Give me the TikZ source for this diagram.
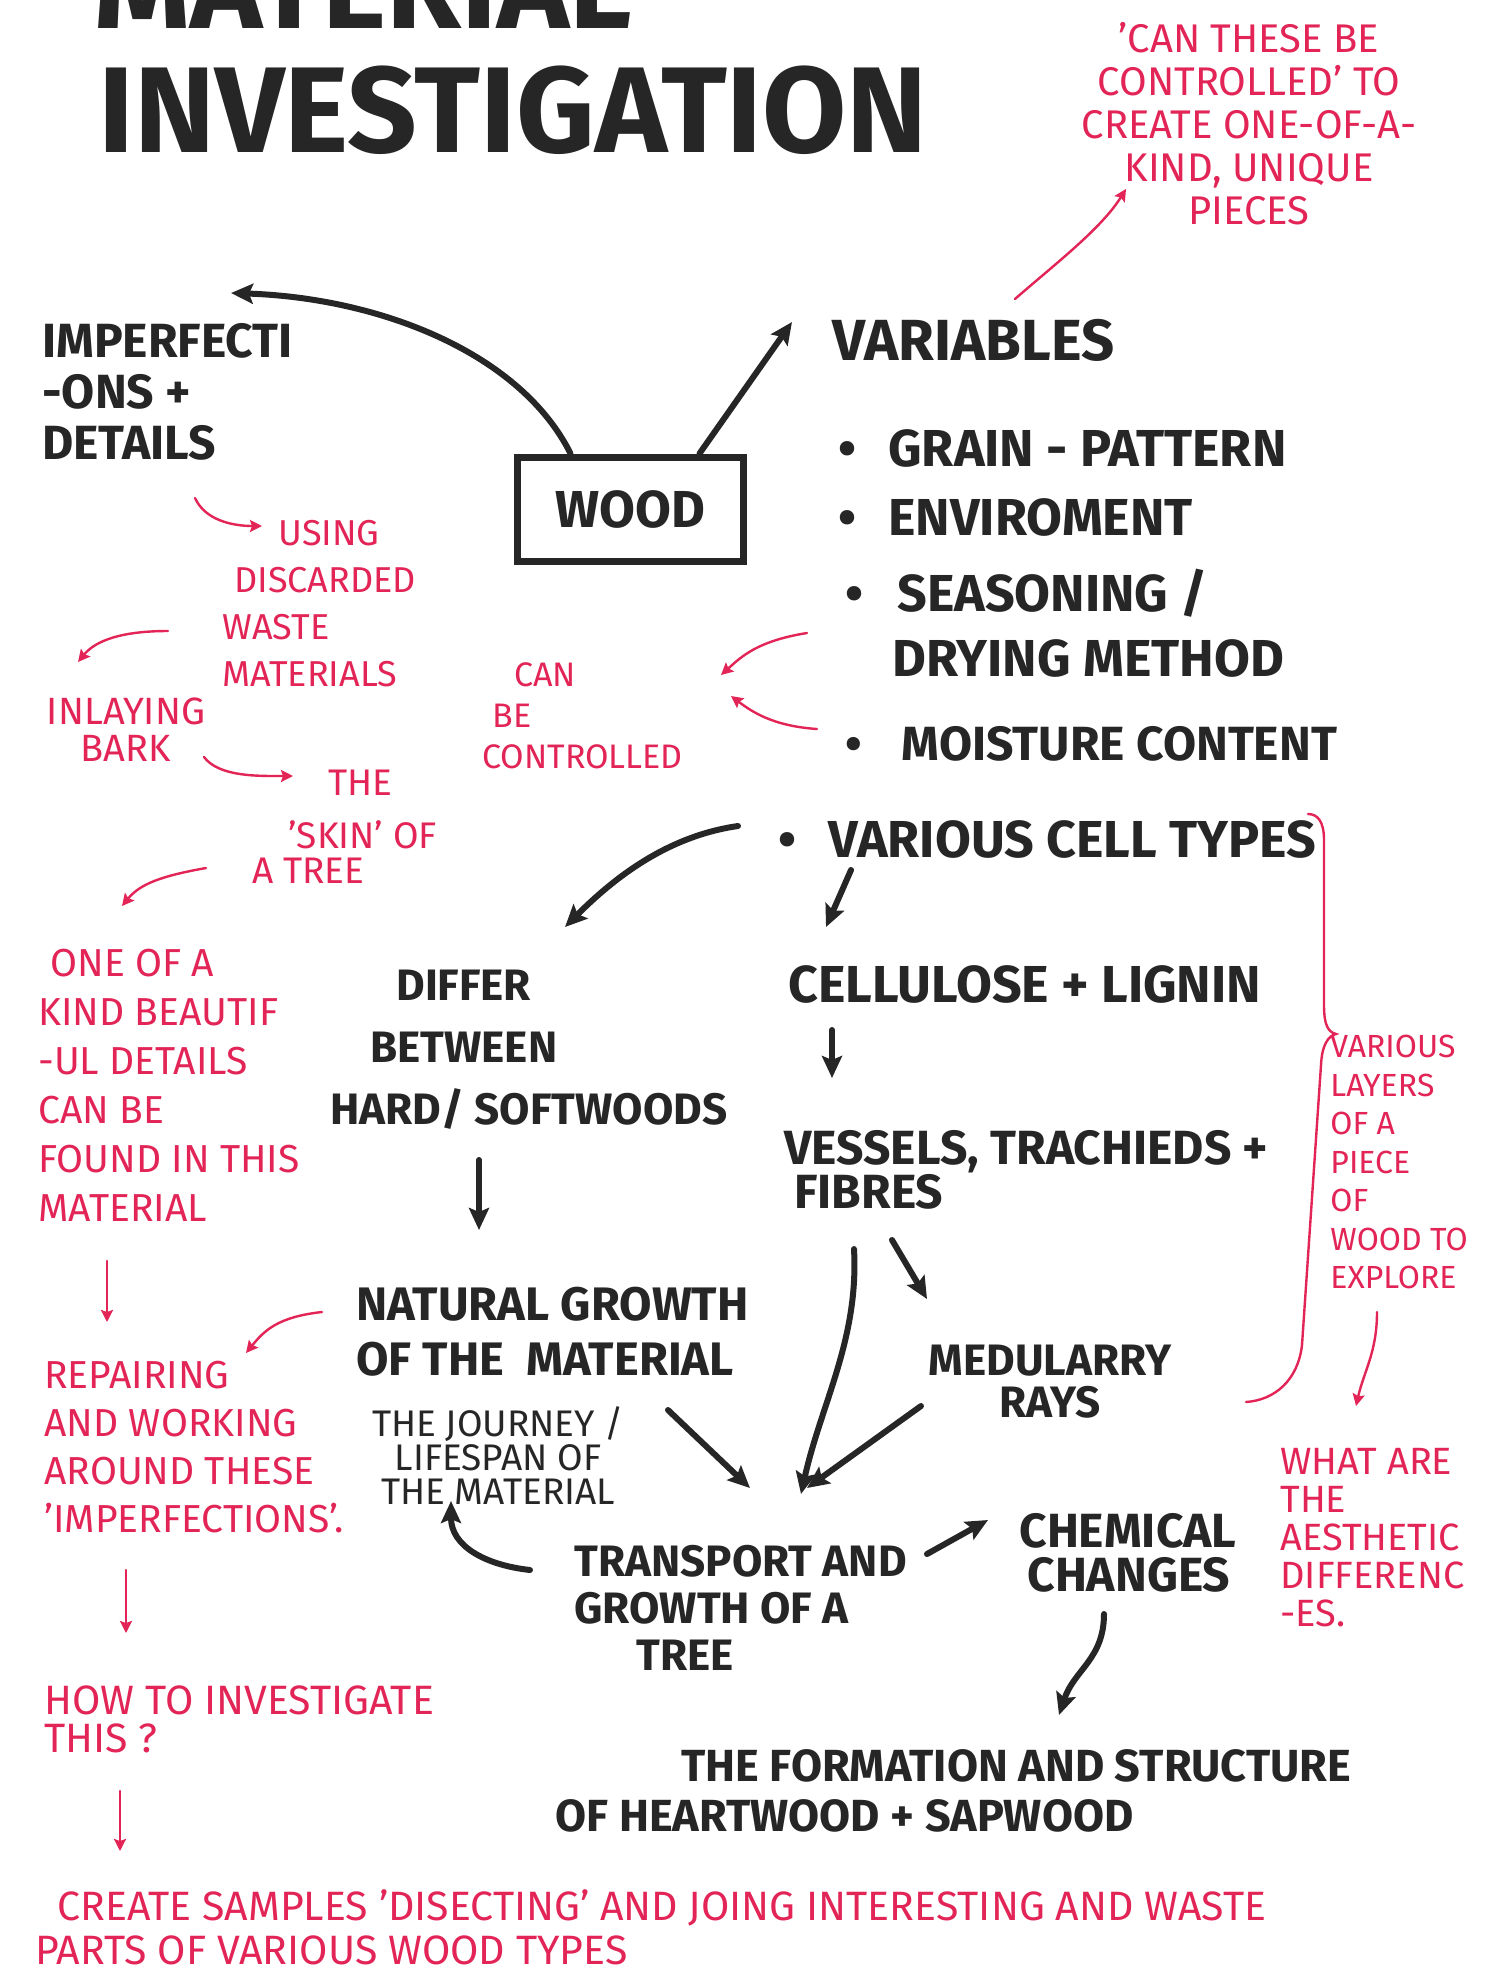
\documentclass[tikz,border=0pt]{standalone}
\usepackage{fontspec}
\setmainfont{Fira Sans}
\definecolor{inkBlack}{RGB}{38,38,38}
\definecolor{penRed}{RGB}{226,36,86}
\usetikzlibrary{arrows.meta,positioning}

\begin{document}
\begin{tikzpicture}[x=0.5pt, y=-0.5pt,
  ink/.style 2 args={inner sep=0pt, text=inkBlack, align=left,
              font=\bfseries\fontsize{#1}{#2}\selectfont},
  note/.style 2 args={inner sep=0pt, text=penRed, align=left,
               font=\fontsize{#1}{#2}\selectfont},
  headline/.style={inner sep=0pt, text=inkBlack, font=\bfseries\fontsize{61}{64}\selectfont},
  arr/.style={-{Stealth[length=11pt,width=10pt,inset=2pt]}, line width=3pt,
              draw=inkBlack, line cap=round},
  rarr/.style={-{Stealth[length=6pt,width=6pt,inset=1pt]}, line width=1.2pt,
               draw=penRed, line cap=round}
]
  \useasboundingbox (0,0) rectangle (1487,1977);
  \clip (0,0) rectangle (1487,1977);
  \fill[white] (0,0) rectangle (1487,1977);

  % title
  \node[headline, anchor=west] (ttl1) at (94,-14) {MATERIAL};
  \node[headline, anchor=west] (ttl2) at (98,110) {INVESTIGATION};

  % black nodes
  \node[ink={24}{25.5}, anchor=west] (imp) at (42,392) {IMPERFECTI\\-ONS +\\DETAILS};
  \node[draw=inkBlack, line width=3.5pt, minimum width=113pt, minimum height=52pt,
        text=inkBlack, font=\bfseries\fontsize{26}{30}\selectfont] (wood) at (630,509) {WOOD};
  \node[ink={29}{30}, anchor=west] (vars) at (832,340) {VARIABLES};
  \node[ink={26}{30}, anchor=west] (v1) at (838,448) {\textbullet\hspace{16pt}GRAIN - PATTERN};
  \node[ink={26}{30}, anchor=west] (v2) at (838,517) {\textbullet\hspace{16pt}ENVIROMENT};
  \node[ink={26}{30}, anchor=west] (v3) at (845,593) {\textbullet\hspace{17pt}SEASONING /};
  \node[ink={26}{30}, anchor=west] (v3b) at (892,658) {DRYING METHOD};
  \node[ink={24}{30}, anchor=west] (v4) at (845,744) {\textbullet\hspace{20pt}MOISTURE CONTENT};
  \node[ink={26}{30}, anchor=west] (v5) at (778,839) {\textbullet\hspace{16pt}VARIOUS CELL TYPES};
  \node[ink={26}{30}, anchor=west] (cell) at (788,984) {CELLULOSE + LIGNIN};
  \node[ink={24}{20}, anchor=west] (vess) at (784,1170) {VESSELS, TRACHIEDS +\\\hspace{5pt}FIBRES};
  \node[ink={22}{21}, align=center] (medul) at (1050,1382) {MEDULARRY\\RAYS};
  \node[ink={22}{31}, anchor=west] (differ) at (330,1050)
    {\hspace{33pt}DIFFER\\\hspace{20pt}BETWEEN\\HARD/ SOFTWOODS};
  \node[ink={23.5}{27.5}, anchor=west] (natural) at (356,1332) {NATURAL GROWTH\\OF THE \ MATERIAL};
  \node[inner sep=0pt, text=inkBlack, align=center, font=\fontsize{18.5}{17}\selectfont]
    (journey) at (498,1456) {THE JOURNEY /\\LIFESPAN OF\\THE MATERIAL};
  \node[ink={22}{23.5}, anchor=west] (trans) at (574,1608) {TRANSPORT AND\\GROWTH OF A\\\hspace{31pt}TREE};
  \node[ink={24}{22}, anchor=west] (chem) at (1019,1553) {CHEMICAL\\\hspace{4pt}CHANGES};
  \node[ink={22.5}{25}, anchor=west] (form) at (555,1791)
    {\hspace{63pt}THE FORMATION AND STRUCTURE\\OF HEARTWOOD + SAPWOOD};
  \node[inner sep=0pt, text=inkBlack, font=\fontsize{17}{20}\selectfont] (page) at (1462,1992) {33};

  % red notes
  \node[note={20}{21.5}, align=center] (q1) at (1249,124)
    {'CAN THESE BE\\CONTROLLED' TO\\CREATE ONE-OF-A-\\KIND, UNIQUE\\PIECES};
  \node[note={18}{23.5}, anchor=west] (using) at (222,604)
    {\hspace{28pt}USING\\\hspace{6pt}DISCARDED\\WASTE\\MATERIALS};
  \node[note={17}{20.5}, anchor=west] (ctrl) at (482,716) {\hspace{16pt}CAN\\\hspace{5pt}BE\\CONTROLLED};
  \node[note={19}{18.5}, align=center] (inlay) at (126,730) {INLAYING\\BARK};
  \node[note={18.5}{17.5}, anchor=west] (skin) at (252,827) {\hspace{38pt}THE\\[9pt]\hspace{18pt}'SKIN' OF\\A TREE};
  \node[note={19.5}{24.5}, anchor=west] (oneof) at (38,1085)
    {\hspace{6pt}ONE OF A\\KIND BEAUTIF\\-UL DETAILS\\CAN BE\\FOUND IN THIS\\MATERIAL};
  \node[note={19.5}{24}, anchor=west] (repair) at (44,1447)
    {REPAIRING\\AND WORKING\\AROUND THESE\\'IMPERFECTIONS'.};
  \node[note={20.5}{19}, anchor=west] (how) at (44,1719) {HOW TO INVESTIGATE\\THIS ?};
  \node[note={20.5}{22}, anchor=west] (create) at (35,1927)
    {\hspace{11pt}CREATE SAMPLES 'DISECTING' AND JOING INTERESTING AND WASTE\\PARTS OF VARIOUS WOOD TYPES};
  \node[note={16}{19.25}, anchor=west] (layers) at (1330,1162)
    {VARIOUS\\LAYERS\\OF A\\PIECE\\OF\\WOOD TO\\EXPLORE};
  \node[note={19}{19}, anchor=west] (aesth) at (1280,1538)
    {WHAT ARE\\THE\\AESTHETIC\\DIFFERENC\\-ES.};

  % arrow ends
  \coordinate (impTip) at (231,293);
  \coordinate (varsTip) at (792,322);
  \coordinate (v5Tail) at (738,826);
  \coordinate (differTip) at (565,927);
  \coordinate (differTail) at (479,1160);
  \coordinate (naturalTip) at (479,1230);
  \coordinate (v5Low) at (851,870);
  \coordinate (cellTip) at (826,927);
  \coordinate (cellTail) at (832,1030);
  \coordinate (vessTip) at (832,1078);
  \coordinate (vessTail) at (892,1240);
  \coordinate (medulTip) at (927,1299);
  \coordinate (vessLow) at (854,1249);
  \coordinate (transTip) at (801,1494);
  \coordinate (medulTail) at (921,1406);
  \coordinate (transTipB) at (807,1488);
  \coordinate (naturalTail) at (668,1410);
  \coordinate (transTipC) at (750,1488);
  \coordinate (transLeft) at (530,1570);
  \coordinate (journeyTip) at (451,1501);
  \coordinate (transRight) at (927,1554);
  \coordinate (chemTip) at (988,1520);
  \coordinate (chemTail) at (1104,1614);
  \coordinate (formTip) at (1059,1715);

  % black arrows
  \draw[arr] ([xshift=28.5pt]wood.north west) .. controls +(-50,-100) and +(150,5) .. (impTip);
  \draw[arr] ([xshift=-23.5pt]wood.north east) -- (varsTip);
  \draw[arr] (v5Tail) .. controls +(-70,10) and +(50,-50) .. (differTip);
  \draw[arr] (differTail) -- (naturalTip);
  \draw[arr] (v5Low) -- (cellTip);
  \draw[arr] (cellTail) -- (vessTip);
  \draw[arr] (vessTail) -- (medulTip);
  \draw[arr] (vessLow) .. controls +(5,90) and +(20,-90) .. (transTip);
  \draw[arr] (medulTail) -- (transTipB);
  \draw[arr] (naturalTail) -- (transTipC);
  \draw[arr] (transLeft) .. controls +(-45,-5) and +(0,45) .. (journeyTip);
  \draw[arr] (transRight) -- (chemTip);
  \draw[arr] (chemTail) .. controls +(0,45) and +(15,-45) .. (formTip);

  % red arrows
  \coordinate (q1Tail) at (1015,299);
  \coordinate (q1Tip) at (1126,189);
  \coordinate (impLow) at (195,498);
  \coordinate (usingTip) at (262,526);
  \coordinate (usingLeft) at (168,631);
  \coordinate (inlayTip) at (78,662);
  \coordinate (inlayTail) at (204,757);
  \coordinate (skinTip) at (293,776);
  \coordinate (skinTail) at (206,868);
  \coordinate (oneofTip) at (122,906);
  \coordinate (oneofTail) at (107,1261);
  \coordinate (repairTip) at (107,1322);
  \coordinate (naturalLeft) at (322,1312);
  \coordinate (repairTipB) at (246,1353);
  \coordinate (repairTail) at (126,1570);
  \coordinate (howTip) at (126,1633);
  \coordinate (howTail) at (120,1791);
  \coordinate (createTip) at (120,1851);
  \coordinate (v3Left) at (807,633);
  \coordinate (ctrlTip) at (721,675);
  \coordinate (v4Left) at (817,729);
  \coordinate (ctrlTipB) at (731,696);
  \coordinate (layersTail) at (1377,1312);
  \coordinate (aesthTip) at (1356,1406);

  \draw[rarr] (q1Tail) .. controls +(40,-35) and +(-25,40) .. (q1Tip);
  \draw[rarr] (impLow) .. controls +(10,22) and +(-30,0) .. (usingTip);
  \draw[rarr] (usingLeft) .. controls +(-45,0) and +(18,-22) .. (inlayTip);
  \draw[rarr] (inlayTail) .. controls +(15,20) and +(-35,0) .. (skinTip);
  \draw[rarr] (skinTail) .. controls +(-45,8) and +(18,-22) .. (oneofTip);
  \draw[rarr] (oneofTail) -- (repairTip);
  \draw[rarr] (naturalLeft) .. controls +(-45,5) and +(18,-22) .. (repairTipB);
  \draw[rarr] (repairTail) -- (howTip);
  \draw[rarr] (howTail) -- (createTip);
  \draw[rarr] (v3Left) .. controls +(-50,8) and +(20,-18) .. (ctrlTip);
  \draw[rarr] (v4Left) .. controls +(-45,-3) and +(20,15) .. (ctrlTipB);
  \draw[rarr] (layersTail) .. controls +(0,40) and +(8,-35) .. (aesthTip);

  % brace round the cell layers
  \draw[penRed, line width=1.2pt, line cap=round]
    (1308,814) .. controls (1318,814) and (1324,822) .. (1324,840)
    -- (1324,1005) .. controls (1324,1025) and (1328,1032) .. (1336,1034)
    .. controls (1328,1036) and (1322,1045) .. (1321,1065)
    -- (1302,1345) .. controls (1298,1380) and (1275,1400) .. (1246,1402);
\end{tikzpicture}
\end{document}
